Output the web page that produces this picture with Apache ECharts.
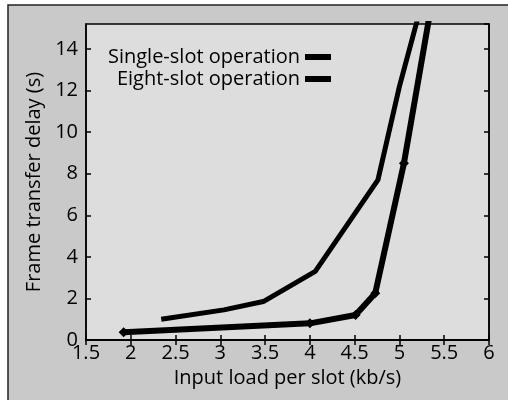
<!DOCTYPE html>
<html>
<head>
<meta charset="utf-8">
<script src="https://cdn.jsdelivr.net/npm/echarts@6/dist/echarts.min.js"></script>
<style>
  html, body { margin: 0; padding: 0; background: #fff; }
  #chart { width: 508px; height: 400px; }
</style>
</head>
<body>
<div id="chart"></div>
<script>
// 读图估计的数据
var seriesNames = ['Single-slot operation', 'Eight-slot operation'];
var singleX = [2.34, 3.04, 3.48, 4.06, 4.76, 5.0, 5.3];
var singleY = [1.0, 1.45, 1.85, 3.3, 7.7, 12.2, 17.0];
var eightX = [1.92, 4.0, 4.51, 4.73, 5.05, 5.4];
var eightY = [0.37, 0.8, 1.2, 2.25, 8.5, 17.2];
var xTicks = [1.5, 2, 2.5, 3, 3.5, 4, 4.5, 5, 5.5, 6];
var yTicks = [0, 2, 4, 6, 8, 10, 12, 14];

function pairs(xs, ys) {
    return xs.map(function (x, i) { return [x, ys[i]]; });
}

(function(){
    var myChart = echarts.init(document.getElementById('chart'));
    var font = '"Open Sans", "Noto Sans", sans-serif';
    var option = {
        animation: false,
        backgroundColor: '#fff',
        graphic: [
            {
                type: 'rect',
                z: -10,
                shape: { x: 8, y: 5, width: 520, height: 420 },
                style: { fill: '#c9c9c9', stroke: '#222', lineWidth: 1.5 }
            }
        ],
        legend: {
            orient: 'vertical',
            right: 172,
            top: 42,
            align: 'right',
            itemWidth: 26,
            itemHeight: 6,
            itemGap: 2,
            icon: 'rect',
            textStyle: { color: '#000', fontSize: 20, fontFamily: font },
            data: seriesNames
        },
        grid: {
            left: 86,
            right: 19,
            top: 24,
            bottom: 60,
            show: true,
            backgroundColor: '#dddddd',
            borderColor: '#000',
            borderWidth: 1.5
        },
        xAxis: [
            {
                type: 'value',
                min: 1.5,
                max: 6,
                interval: 0.5,
                name: 'Input load per slot (kb/s)',
                nameLocation: 'middle',
                nameGap: 27,
                nameTextStyle: { color: '#000', fontSize: 20, fontFamily: font },
                axisLine: { lineStyle: { color: '#000', width: 1.5 } },
                axisTick: { inside: true, length: 5, lineStyle: { color: '#000', width: 1.5 } },
                axisLabel: {
                    color: '#000', fontSize: 20, fontFamily: font, margin: 3,
                    formatter: function (v) { return xTicks.indexOf(v) >= 0 ? String(v) : ''; }
                },
                splitLine: { show: false }
            },
            {
                type: 'value',
                position: 'top',
                min: 1.5,
                max: 6,
                interval: 0.5,
                axisLine: { lineStyle: { color: '#000', width: 1.5 } },
                axisTick: { inside: true, length: 5, lineStyle: { color: '#000', width: 1.5 } },
                axisLabel: { show: false },
                splitLine: { show: false }
            }
        ],
        yAxis: [
            {
                type: 'value',
                min: 0,
                max: 15.2,
                interval: 2,
                name: 'Frame transfer delay (s)',
                nameLocation: 'middle',
                nameGap: 42,
                nameTextStyle: { color: '#000', fontSize: 20, fontFamily: font },
                axisLine: { show: true, lineStyle: { color: '#000', width: 1.5 } },
                axisTick: { show: true, inside: true, length: 5, lineStyle: { color: '#000', width: 1.5 } },
                axisLabel: {
                    color: '#000', fontSize: 20, fontFamily: font, margin: 8, showMaxLabel: false,
                    formatter: function (v) { return yTicks.indexOf(v) >= 0 ? String(v) : ''; }
                },
                splitLine: { show: false }
            },
            {
                type: 'value',
                position: 'right',
                min: 0,
                max: 15.2,
                interval: 2,
                axisLine: { show: true, lineStyle: { color: '#000', width: 1.5 } },
                axisTick: { show: true, inside: true, length: 5, lineStyle: { color: '#000', width: 1.5 } },
                axisLabel: { show: false },
                splitLine: { show: false }
            }
        ],
        series: [
            {
                name: seriesNames[0],
                type: 'line',
                data: pairs(singleX, singleY),
                symbol: 'none',
                itemStyle: { color: '#000' },
                lineStyle: { color: '#000', width: 5 }
            },
            {
                name: seriesNames[1],
                type: 'line',
                data: pairs(eightX, eightY),
                symbol: 'diamond',
                symbolSize: 10,
                itemStyle: { color: '#000' },
                lineStyle: { color: '#000', width: 6 }
            }
        ]
    };
    myChart.setOption(option);
    window.addEventListener('resize', function(){
        myChart.resize();
    });
})();
</script>
</body>
</html>
